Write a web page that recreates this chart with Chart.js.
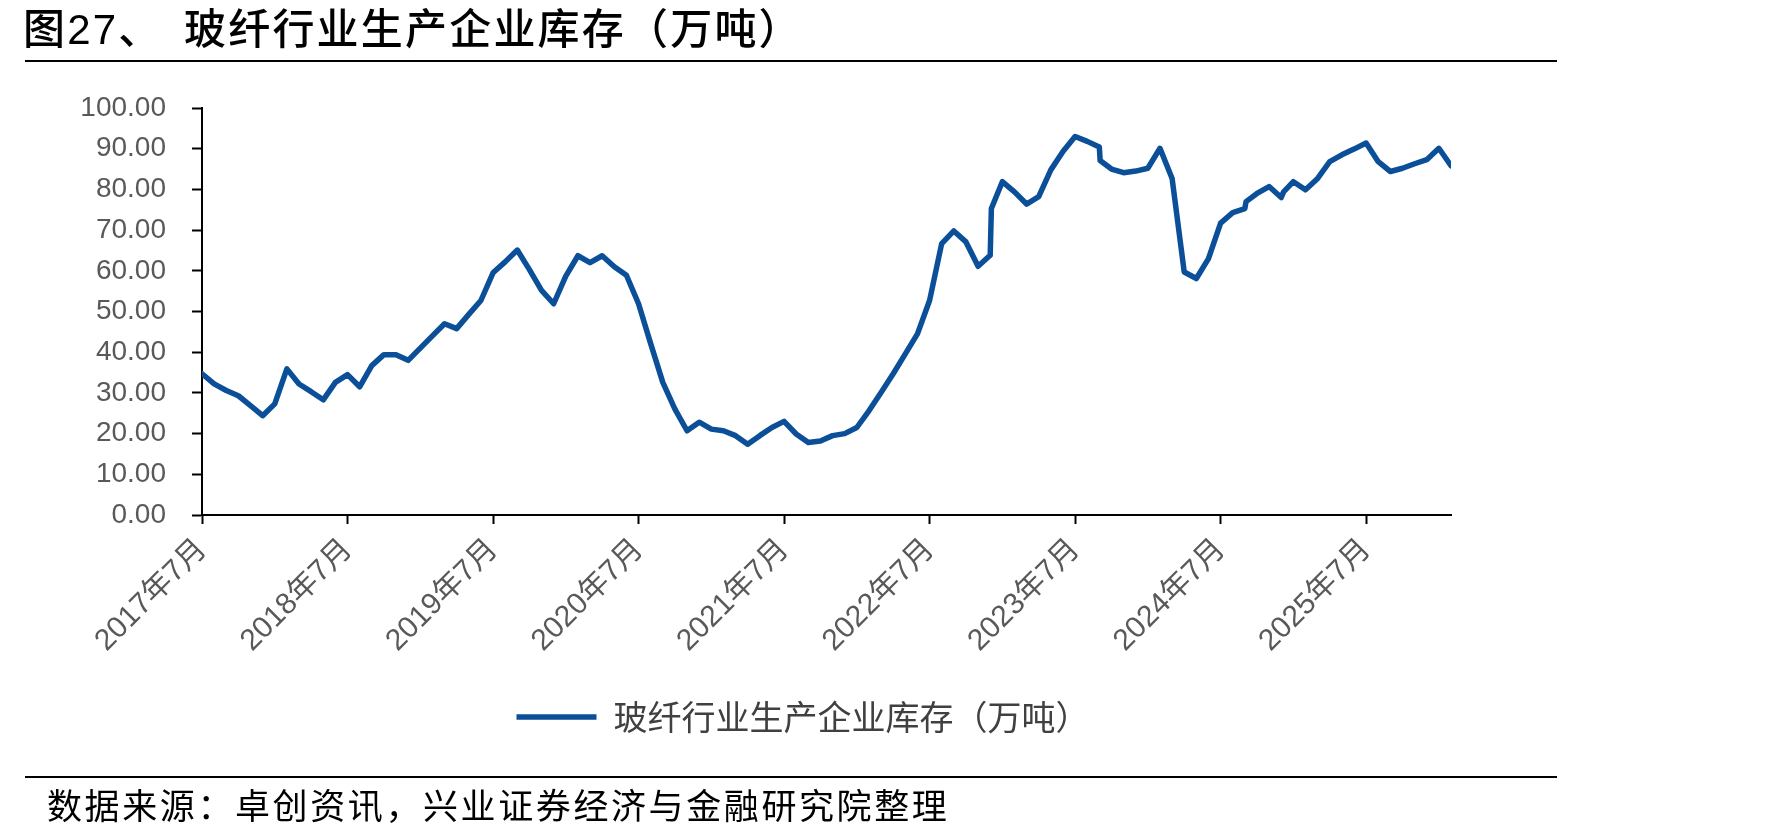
<!DOCTYPE html>
<html>
<head>
<meta charset="utf-8">
<script src="https://cdn.jsdelivr.net/npm/chart.js@4.4.1/dist/chart.umd.min.js"></script>
<style>
  html, body { margin: 0; padding: 0; background: #fff; }
  #wrap { position: relative; width: 1772px; height: 837px; overflow: hidden; }
  #chart { position: absolute; left: 0; top: 0; }
  .title { position: absolute; top: 6px; font-family: "Liberation Sans", "Noto Sans CJK SC", sans-serif; font-size: 42px; line-height: 48px; font-weight: 500; color: #000; white-space: nowrap; letter-spacing: 2.2px; }
  .rule { position: absolute; left: 25px; width: 1532px; height: 2px; background: #000; }
  .source { position: absolute; left: 47px; top: 783px; font-family: "Noto Sans CJK SC", sans-serif; font-size: 35px; line-height: 42px; color: #000; white-space: nowrap; letter-spacing: 2.6px; }
</style>
</head>
<body>
<div id="wrap">
  <canvas id="chart" width="1772" height="837"></canvas>
  <div class="title" style="left:23px">图27、</div>
  <div class="title" style="left:184px">玻纤行业生产企业库存（万吨）</div>
  <div class="rule" style="top:60px"></div>
  <div class="rule" style="top:776px"></div>
  <div class="source">数据来源：卓创资讯，兴业证券经济与金融研究院整理</div>
</div>
<script>
const seriesName = "玻纤行业生产企业库存（万吨）";

const dates = [
    "2017-07-01", "2017-08-01", "2017-09-01", "2017-10-01", "2017-11-01", "2017-12-01",
    "2018-01-01", "2018-02-01", "2018-03-01", "2018-04-01", "2018-05-01", "2018-06-01",
    "2018-07-01", "2018-08-01", "2018-09-01", "2018-10-01", "2018-11-01", "2018-12-01",
    "2019-01-01", "2019-02-01", "2019-03-01", "2019-04-01", "2019-05-01", "2019-06-01",
    "2019-07-01", "2019-08-01", "2019-09-01", "2019-10-01", "2019-11-01", "2019-12-01",
    "2020-01-01", "2020-02-01", "2020-03-01", "2020-04-01", "2020-05-01", "2020-06-01",
    "2020-07-01", "2020-08-01", "2020-09-01", "2020-10-01", "2020-11-01", "2020-12-01",
    "2021-01-01", "2021-02-01", "2021-03-01", "2021-04-01", "2021-05-01", "2021-06-01",
    "2021-07-01", "2021-08-01", "2021-09-01", "2021-10-01", "2021-11-01", "2021-12-01",
    "2022-01-01", "2022-02-01", "2022-03-01", "2022-04-01", "2022-05-01", "2022-06-01",
    "2022-07-01", "2022-08-01", "2022-09-01", "2022-10-01", "2022-11-01", "2022-12-01", "2022-12-04",
    "2023-01-01", "2023-02-01", "2023-03-01", "2023-04-01", "2023-05-01", "2023-06-01",
    "2023-07-01", "2023-08-01", "2023-09-01", "2023-09-03", "2023-10-01", "2023-11-01", "2023-12-01",
    "2024-01-01", "2024-02-01", "2024-03-01", "2024-04-01", "2024-05-01", "2024-06-01",
    "2024-07-01", "2024-08-01", "2024-09-01", "2024-09-04", "2024-10-01", "2024-11-01", "2024-12-01", "2024-12-07",
    "2025-01-01", "2025-02-01", "2025-03-01", "2025-04-01", "2025-05-01", "2025-06-01",
    "2025-07-01", "2025-08-01", "2025-09-01", "2025-10-01", "2025-11-01", "2025-12-01",
    "2026-01-01", "2026-02-01"
];

const inventory = [
    34.7, 32.2, 30.6, 29.3, 26.9, 24.4,
    27.3, 35.9, 32.2, 30.3, 28.3, 32.6,
    34.5, 31.5, 36.7, 39.4, 39.4, 38.0,
    41.0, 44.0, 47.0, 45.8, 49.3, 52.7,
    59.5, 62.2, 65.1, 60.3, 55.2, 51.9,
    58.7, 63.7, 62.0, 63.7, 61.0, 58.9,
    51.9, 42.1, 32.6, 26.0, 20.7, 22.8,
    21.1, 20.7, 19.5, 17.4, 19.5, 21.5,
    23.0, 19.9, 17.8, 18.2, 19.5, 20.0,
    21.5, 25.6, 30.1, 34.7, 39.6, 44.5,
    52.7, 66.7, 69.8, 67.1, 61.1, 63.8, 75.3,
    81.9, 79.4, 76.4, 78.2, 84.8, 89.3,
    93.0, 91.8, 90.4, 87.1, 85.0, 84.1, 84.5,
    85.2, 90.1, 82.7, 59.7, 58.1, 63.0,
    71.7, 74.3, 75.3, 77.0, 79.0, 80.7, 78.0, 79.4,
    81.9, 79.9, 82.7, 86.8, 88.5, 89.9,
    91.4, 86.8, 84.4, 85.2, 86.3, 87.3,
    90.1, 85.8
];

const tickDates = ["2017-07-01", "2018-07-01", "2019-07-01", "2020-07-01", "2021-07-01",
                   "2022-07-01", "2023-07-01", "2024-07-01", "2025-07-01"];
const tickLabels = ["2017年7月", "2018年7月", "2019年7月", "2020年7月", "2021年7月",
                    "2022年7月", "2023年7月", "2024年7月", "2025年7月"];
const yTicks = [0, 10, 20, 30, 40, 50, 60, 70, 80, 90, 100];

// months since 2017-07, days as a fraction
function monthIndex(d) {
    const p = d.split("-").map(Number);
    return (p[0] - 2017) * 12 + (p[1] - 7) + (p[2] - 1) / 31;
}

const points = dates.map((d, i) => ({ x: monthIndex(d), y: inventory[i] }));
const tickPos = tickDates.map(monthIndex);

const fontFam = '"Liberation Sans", "Noto Sans CJK SC", sans-serif';

new Chart(document.getElementById("chart"), {
    type: 'line',
    data: {
        datasets: [{
            label: seriesName,
            data: points,
            borderColor: "#0B4F99",
            backgroundColor: "#0B4F99",
            borderWidth: 5.5,
            borderJoinStyle: 'round',
            borderCapStyle: 'round',
            pointRadius: 0,
            tension: 0,
            yAxisID: 'y'
        }]
    },
    options: {
        responsive: false,
        animation: false,
        devicePixelRatio: 1,
        // left padding is bigger than the page margin so the legend sits where the original has it
        layout: { padding: { left: 49, right: 215, top: 108, bottom: 93 } },
        plugins: {
            tooltip: { enabled: false },
            legend: {
                position: 'bottom',
                labels: {
                    usePointStyle: true,
                    pointStyle: 'line',
                    pointStyleWidth: 80,
                    color: "#404040",
                    font: { family: '"Noto Sans CJK SC", sans-serif', size: 34 },
                    padding: 10
                }
            }
        },
        scales: {
            x: {
                type: 'linear',
                min: monthIndex(dates[0]),
                max: monthIndex(dates[dates.length - 1]),
                afterBuildTicks: s => { s.ticks = tickPos.map(v => ({ value: v })); },
                afterFit: s => { s.height = 175; },
                ticks: {
                    autoSkip: false,
                    minRotation: 45,
                    maxRotation: 45,
                    padding: 8,
                    color: "#595959",
                    font: { family: fontFam, size: 30 },
                    callback: (v) => {
                        const i = tickPos.indexOf(v);
                        return i >= 0 ? tickLabels[i] : "";
                    }
                },
                grid: { drawOnChartArea: false, drawTicks: true, tickLength: 9, tickWidth: 2, tickColor: "#000" },
                border: { display: true, color: "#000", width: 2 }
            },
            y: {
                min: 0,
                max: 100,
                afterBuildTicks: s => { s.ticks = yTicks.map(v => ({ value: v })); },
                afterFit: s => { s.width = 153; },
                ticks: {
                    padding: 26,
                    color: "#595959",
                    font: { family: fontFam, size: 28 },
                    callback: v => v.toFixed(2)
                },
                grid: { drawOnChartArea: false, drawTicks: true, tickLength: 10, tickWidth: 2, tickColor: "#000" },
                border: { display: true, color: "#000", width: 2 }
            },
            yR: {
                position: 'right',
                display: true,
                ticks: { display: false },
                grid: { display: false },
                border: { display: false },
                afterFit: s => { s.width = 106; }
            }
        }
    }
});
</script>
</body>
</html>
